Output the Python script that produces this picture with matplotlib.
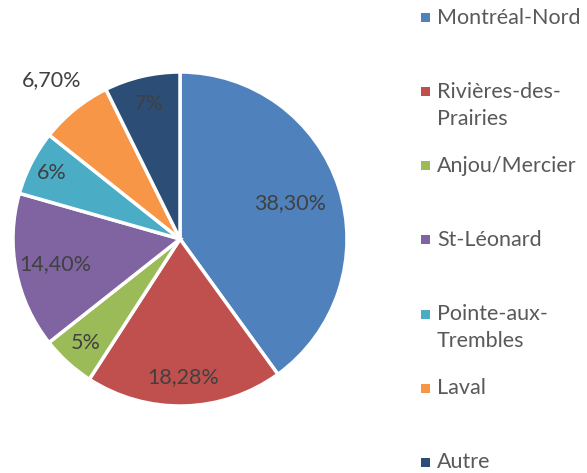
import numpy as np
import matplotlib
matplotlib.use("Agg")
import matplotlib.pyplot as plt
from matplotlib.patches import Rectangle

categories = ["Montréal-Nord", "Rivières-des-\nPrairies", "Anjou/Mercier", "St-Léonard",
              "Pointe-aux-\nTrembles", "Laval", "Autre"]
values = [38.30, 18.28, 5, 14.40, 6, 6.70, 7]
value_labels = ["38,30%", "18,28%", "5%", "14,40%", "6%", "6,70%", "7%"]

colors = ["#4F81BD", "#C0504D", "#9BBB59", "#8064A2", "#4BACC6", "#F79646", "#2C4D75"]
# radial position of each data label (fraction of radius), as placed in the original
label_dist = [0.69, 0.83, 0.84, 0.76, 0.86, 1.22, 0.83]

plt.rcParams["font.family"] = ["Lato", "DejaVu Sans"]

W, H = 587, 473
fig = plt.figure(figsize=(W / 100, H / 100), dpi=100)

cx, cy, r = 180, 239, 167
ax = fig.add_axes([(cx - r) / W, (H - cy - r) / H, 2 * r / W, 2 * r / H])
wedges, _ = ax.pie(values, colors=colors, startangle=90, counterclock=False,
                   radius=1.0, wedgeprops=dict(edgecolor="white", linewidth=2.5))
ax.set_xlim(-1, 1)
ax.set_ylim(-1, 1)
ax.set_aspect("equal")
ax.axis("off")

for w, lab, d in zip(wedges, value_labels, label_dist):
    ang = np.deg2rad((w.theta1 + w.theta2) / 2)
    ax.text(d * np.cos(ang), d * np.sin(ang), lab, ha="center", va="center",
            fontsize=15.5, color="#404040", clip_on=False)

# legend, drawn by hand to follow the original spacing
y0, step, line_h = 18, 74.0, 27
for i, (name, c) in enumerate(zip(categories, colors)):
    y = y0 + i * step
    fig.patches.append(Rectangle((421 / W, (H - y - 4.5) / H), 9 / W, 9 / H,
                                 transform=fig.transFigure, facecolor=c, edgecolor="none"))
    for k, line in enumerate(name.split("\n")):
        fig.text(437 / W, (H - y - k * line_h) / H, line, ha="left", va="center",
                 fontsize=15.5, color="#595959")

fig.savefig("out.png", dpi=100)
